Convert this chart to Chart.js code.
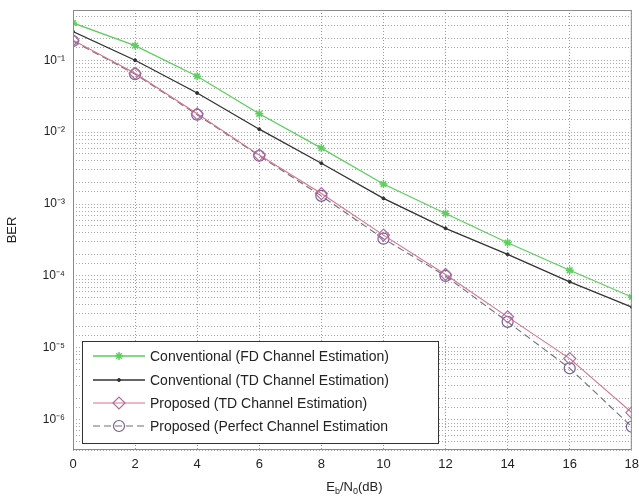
<!DOCTYPE html>
<html><head><meta charset="utf-8">
<script src="https://cdn.jsdelivr.net/npm/chart.js@4"></script>
<style>html,body{margin:0;padding:0;background:#fff}#wrap{width:639px;height:497px}</style>
</head><body><div id="wrap"><canvas id="c" width="639" height="497"></canvas></div>
<script>
const snr = [0, 2, 4, 6, 8, 10, 12, 14, 16, 18];
const convFD = [0.33, 0.16, 0.06, 0.018, 0.006, 0.0019, 7.4e-4, 2.9e-4, 1.2e-4, 5.1e-5];
const convTD = [0.25, 0.10, 0.035, 0.011, 0.0037, 1.2e-3, 4.6e-4, 2.0e-4, 8.3e-5, 3.7e-5];
const propTD = [0.19, 0.066, 0.018, 0.0048, 0.0014, 3.7e-4, 1.05e-4, 2.7e-5, 7.1e-6, 1.26e-6];
const propPerfect = [0.185, 0.064, 0.0175, 0.0047, 0.0013, 3.3e-4, 1.0e-4, 2.3e-5, 5.2e-6, 8e-7];
const seriesNames = ['Conventional (FD Channel Estimation)', 'Conventional (TD Channel Estimation)', 'Proposed (TD Channel Estimation)', 'Proposed (Perfect Channel Estimation'];
const xTicks = [0, 2, 4, 6, 8, 10, 12, 14, 16, 18];
const supers = {'-':'⁻','0':'⁰','1':'¹','2':'²','3':'³','4':'⁴','5':'⁵','6':'⁶','7':'⁷','8':'⁸','9':'⁹'};

function pts(arr){ return snr.map((x,i)=>({x:x,y:arr[i]})); }

const datasets = [
  {label: seriesNames[0], data: pts(convFD), borderColor:'#5ccf5c', backgroundColor:'#5ccf5c', borderWidth:1.3, pointStyle:'star', pointRadius:4, pointBorderWidth:1.5},
  {label: seriesNames[1], data: pts(convTD), borderColor:'#333333', backgroundColor:'#333333', borderWidth:1.3, pointStyle:'circle', pointRadius:1.5, pointBorderWidth:1},
  {label: seriesNames[2], data: pts(propTD), borderColor:'#d9728a', backgroundColor:'rgba(0,0,0,0)', borderWidth:1.1, pointStyle:'rectRot', pointRadius:6, pointBorderColor:'#b06aa0', pointBorderWidth:1.2},
  {label: seriesNames[3], data: pts(propPerfect), borderColor:'#6e6e80', backgroundColor:'rgba(0,0,0,0)', borderWidth:1.1, borderDash:[7,4], pointStyle:'circle', pointRadius:5.5, pointBorderColor:'#7a5c98', pointBorderWidth:1.2}
];

const framePlugin = {
  id:'frame',
  afterDraw(chart){
    const {ctx, chartArea:a} = chart;
    ctx.save();
    ctx.strokeStyle = '#8a8a8a'; ctx.lineWidth = 1; ctx.setLineDash([]);
    ctx.strokeRect(a.left+0.5, a.top+0.5, a.right-a.left-1, a.bottom-a.top-1);
    // x title with subscripts
    ctx.fillStyle = '#222';
    ctx.textBaseline = 'alphabetic';
    const big = '13px "Liberation Sans", Arial, sans-serif', small = '9px "Liberation Sans", Arial, sans-serif';
    const parts = [['E',big,0],['b',small,3],['/N',big,0],['0',small,3],['(dB)',big,0]];
    let w = 0;
    parts.forEach(p=>{ctx.font=p[1]; w+=ctx.measureText(p[0]).width;});
    let x = (a.left+a.right)/2 - w/2 + 2; const y = 491;
    parts.forEach(p=>{ctx.font=p[1]; ctx.fillText(p[0], x, y+p[2]); x+=ctx.measureText(p[0]).width;});
    // legend
    const lx = 82, ly = 341, lw = 356, lh = 102;
    ctx.fillStyle = '#fff'; ctx.fillRect(lx, ly, lw, lh);
    ctx.strokeStyle = '#333'; ctx.lineWidth = 1; ctx.strokeRect(lx+0.5, ly+0.5, lw, lh);
    const rows = [356, 380, 403, 426];
    chart.data.datasets.forEach((ds,i)=>{
      const ry = rows[i];
      ctx.save();
      ctx.strokeStyle = ds.borderColor; ctx.lineWidth = ds.borderWidth;
      ctx.setLineDash(ds.borderDash || []);
      ctx.beginPath(); ctx.moveTo(93, ry); ctx.lineTo(145, ry); ctx.stroke();
      ctx.setLineDash([]);
      ctx.fillStyle = ds.backgroundColor;
      ctx.strokeStyle = ds.pointBorderColor || ds.borderColor; ctx.lineWidth = ds.pointBorderWidth;
      Chart.helpers.drawPoint(ctx, {pointStyle: ds.pointStyle, radius: ds.pointRadius, borderWidth: ds.pointBorderWidth}, 119, ry);
      ctx.restore();
      ctx.fillStyle = '#222'; ctx.font = '14px "Liberation Sans", Arial, sans-serif';
      ctx.textBaseline = 'middle';
      ctx.fillText(ds.label, 150, ry+1);
    });
    ctx.restore();
  }
};

new Chart(document.getElementById('c'), {
  type:'line',
  data:{datasets},
  options:{
    responsive:false, animation:false, devicePixelRatio:1,
    layout:{padding:{top:10, right:6, left:0, bottom:0}},
    plugins:{legend:{display:false}, tooltip:{enabled:false}},
    elements:{line:{tension:0}},
    scales:{
      x:{type:'linear', min:0, max:18,
        afterBuildTicks(s){ s.ticks = xTicks.map(v=>({value:v})); },
        afterFit(s){ s.height = 47; s.paddingLeft = 0; s.paddingRight = 0; },
        grid:{color:'#9a9a9a', lineWidth:1, drawTicks:false},
        border:{display:false, dash:[1,2]},
        ticks:{color:'#222', font:{size:13, family:'"Liberation Sans", Arial, sans-serif'}, padding:7, maxRotation:0, autoSkip:false}
      },
      y:{type:'logarithmic', min:3.8e-7, max:0.5,
        afterFit(s){ s.width = 73; s.paddingTop = 0; s.paddingBottom = 0; },
        grid:{color:'#a8a8a8', lineWidth:1, drawTicks:false},
        border:{display:false, dash:[1,2]},
        title:{display:true, text:'BER', color:'#222', font:{size:13, family:'"Liberation Sans", Arial, sans-serif'}, padding:{top:5,bottom:4}},
        ticks:{autoSkip:false, color:'#222', padding:8, font:{size:12, family:'"Liberation Sans", Arial, sans-serif'},
          callback(v){
            const l = Math.log10(v), r = Math.round(l);
            if (Math.abs(l-r) < 1e-6) { return '10' + String(r).split('').map(c=>supers[c]).join(''); }
            return '';
          }}
      }
    }
  },
  plugins:[framePlugin]
});
</script></body></html>
